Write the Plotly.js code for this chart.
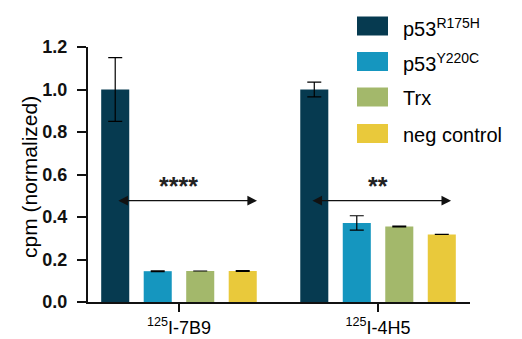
<!DOCTYPE html>
<html>
<head>
<meta charset="utf-8">
<script src="https://cdn.plot.ly/plotly-3.0.1.min.js"></script>
<style>html,body{margin:0;padding:0;background:#fff;}#chart{width:522px;height:339px;}</style>
</head>
<body>
<div id="chart"></div>
<script>
var categories = ["<sup>125</sup>I-7B9", "<sup>125</sup>I-4H5"];
var seriesNames = ["p53<sup>R175H</sup>", "p53<sup>Y220C</sup>", "Trx", "neg control"];
var seriesColors = ["#063a50", "#1596bf", "#a3b86b", "#e9c93b"];
var valuesR175H = [1.0, 1.0];
var errorsR175H = [0.15, 0.035];
var valuesY220C = [0.145, 0.372];
var errorsY220C = [0.002, 0.034];
var valuesTrx = [0.146, 0.355];
var errorsTrx = [null, 0.002];
var valuesNeg = [0.146, 0.318];
var errorsNeg = [0.002, null];
var significance = ["****", "**"];
var yTicks = [0, 0.2, 0.4, 0.6, 0.8, 1.0, 1.2];

var allValues = [valuesR175H, valuesY220C, valuesTrx, valuesNeg];
var allErrors = [errorsR175H, errorsY220C, errorsTrx, errorsNeg];

var traces = allValues.map(function (vals, i) {
  return {
    type: "bar",
    x: categories,
    y: vals,
    name: seriesNames[i],
    marker: { color: seriesColors[i], line: { width: 0 } },
    error_y: { type: "data", array: allErrors[i], visible: true, color: "#000", thickness: 1.2, width: 7 },
    showlegend: false
  };
});

// plot area in pixels
var L = 88, R = 52, T = 47, B = 37, W = 522, H = 339;
var pw = W - L - R, ph = H - T - B;
function px2paperX(px) { return (px - L) / pw; }
function px2paperY(py) { return (H - B - py) / ph; }

var shapes = [];
var annotations = [];
var FONT = "Liberation Sans, Arial, sans-serif";

// custom legend
var legY = [26, 61.5, 97, 133.5];
seriesNames.forEach(function (n, i) {
  shapes.push({
    type: "rect", xref: "paper", yref: "paper",
    x0: px2paperX(357), x1: px2paperX(388),
    y0: px2paperY(legY[i] - 9.5), y1: px2paperY(legY[i] + 9.5),
    fillcolor: seriesColors[i], line: { width: 0 }
  });
  annotations.push({
    xref: "paper", yref: "paper", x: px2paperX(401), y: px2paperY(legY[i] + 1),
    xanchor: "left", yanchor: "middle", text: n, showarrow: false,
    font: { family: FONT, size: 20, color: "#000" }
  });
});

// significance arrows (double-headed) and stars
var arrowY = 0.477;
var arrowSpans = [[-0.312, 0.392], [0.663, 1.367]];
arrowSpans.forEach(function (sp, i) {
  annotations.push({
    xref: "x", yref: "y", axref: "x", ayref: "y",
    x: sp[1], y: arrowY, ax: sp[0], ay: arrowY,
    text: "", showarrow: true, arrowhead: 2, startarrowhead: 2,
    arrowside: "end+start", arrowsize: 1.6, startarrowsize: 1.6,
    arrowwidth: 1.2, arrowcolor: "#111", standoff: 0, startstandoff: 0
  });
  annotations.push({
    xref: "x", yref: "y", x: i, y: 0.545, text: significance[i], showarrow: false,
    xanchor: "center", yanchor: "middle",
    font: { family: FONT, size: 25, color: "#222", weight: "bold" }
  });
});

// y axis title
annotations.push({
  xref: "paper", yref: "paper", x: px2paperX(29), y: px2paperY(177),
  text: "cpm (normalized)", showarrow: false, textangle: -90,
  xanchor: "center", yanchor: "middle",
  font: { family: FONT, size: 21, color: "#000" }
});

var layout = {
  width: W, height: H,
  margin: { l: L, r: R, t: T, b: B, pad: 0 },
  paper_bgcolor: "#fff", plot_bgcolor: "#fff",
  barmode: "group", bargap: 0.146, bargroupgap: 0.34,
  showlegend: false,
  font: { family: FONT, color: "#000" },
  xaxis: {
    type: "category", range: [-0.457, 1.462],
    showline: true, linecolor: "#111", linewidth: 2,
    ticks: "outside", ticklen: 8, tickwidth: 2, tickcolor: "#111",
    showgrid: false, zeroline: false,
    tickfont: { family: FONT, size: 18, color: "#000" }
  },
  yaxis: {
    range: [0, 1.2], tickvals: yTicks, ticktext: yTicks.map(function (v) { return v.toFixed(1); }),
    showline: true, linecolor: "#111", linewidth: 2,
    ticks: "outside", ticklen: 9, tickwidth: 2, tickcolor: "#111",
    showgrid: false, zeroline: false, ticklabelstandoff: 6,
    tickfont: { family: FONT, size: 18, color: "#111", weight: "bold" }
  },
  shapes: shapes,
  annotations: annotations
};

Plotly.newPlot("chart", traces, layout, { displayModeBar: false, staticPlot: true });
</script>
</body>
</html>
